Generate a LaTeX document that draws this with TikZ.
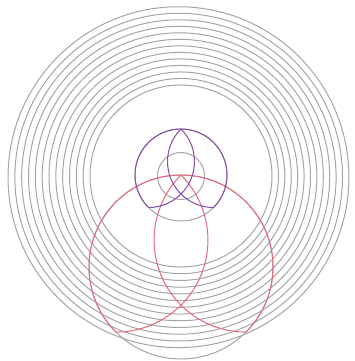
\documentclass[tikz,border=0pt]{standalone}
\definecolor{ringgray}{RGB}{165,165,165}
\definecolor{lenspurple}{RGB}{135,75,165}
\definecolor{lensred}{RGB}{228,105,122}
\tikzset{
  ring/.style={draw=ringgray, line width=1pt},
  purplearc/.style={draw=lenspurple, line width=1pt},
  redarc/.style={draw=lensred, line width=1pt}
}
\begin{document}
\begin{tikzpicture}[x=1pt,y=1pt]
\useasboundingbox (0,0) rectangle (354,361);
% gray family of rings
\foreach \i in {0,...,12}{
  \draw[ring] ({181-0.21*\i},{185-0.1*\i}) circle[radius={91+6.62*\i}];
}
% small gray ring and the full gray circles under the coloured arcs
\coordinate (P) at (181,186);
\coordinate (O) at (181,94);
\draw[ring] (181,185) circle[radius=23.5];
\draw[ring] (P) circle[radius=46];
\draw[ring] (O) circle[radius=92];
% red figure
\draw[redarc] (O) ++(225:92) arc[start angle=225, end angle=-45, radius=92];
\draw[redarc] (181,186) arc[start angle=135, end angle=270, radius=92];
\draw[redarc] (181,186) arc[start angle=45, end angle=-90, radius=92];
% purple figure
\draw[purplearc] (P) ++(225:46) arc[start angle=225, end angle=-45, radius=46];
\draw[purplearc] (181,232) arc[start angle=135, end angle=270, radius=46];
\draw[purplearc] (181,232) arc[start angle=45, end angle=-90, radius=46];
\end{tikzpicture}
\end{document}
